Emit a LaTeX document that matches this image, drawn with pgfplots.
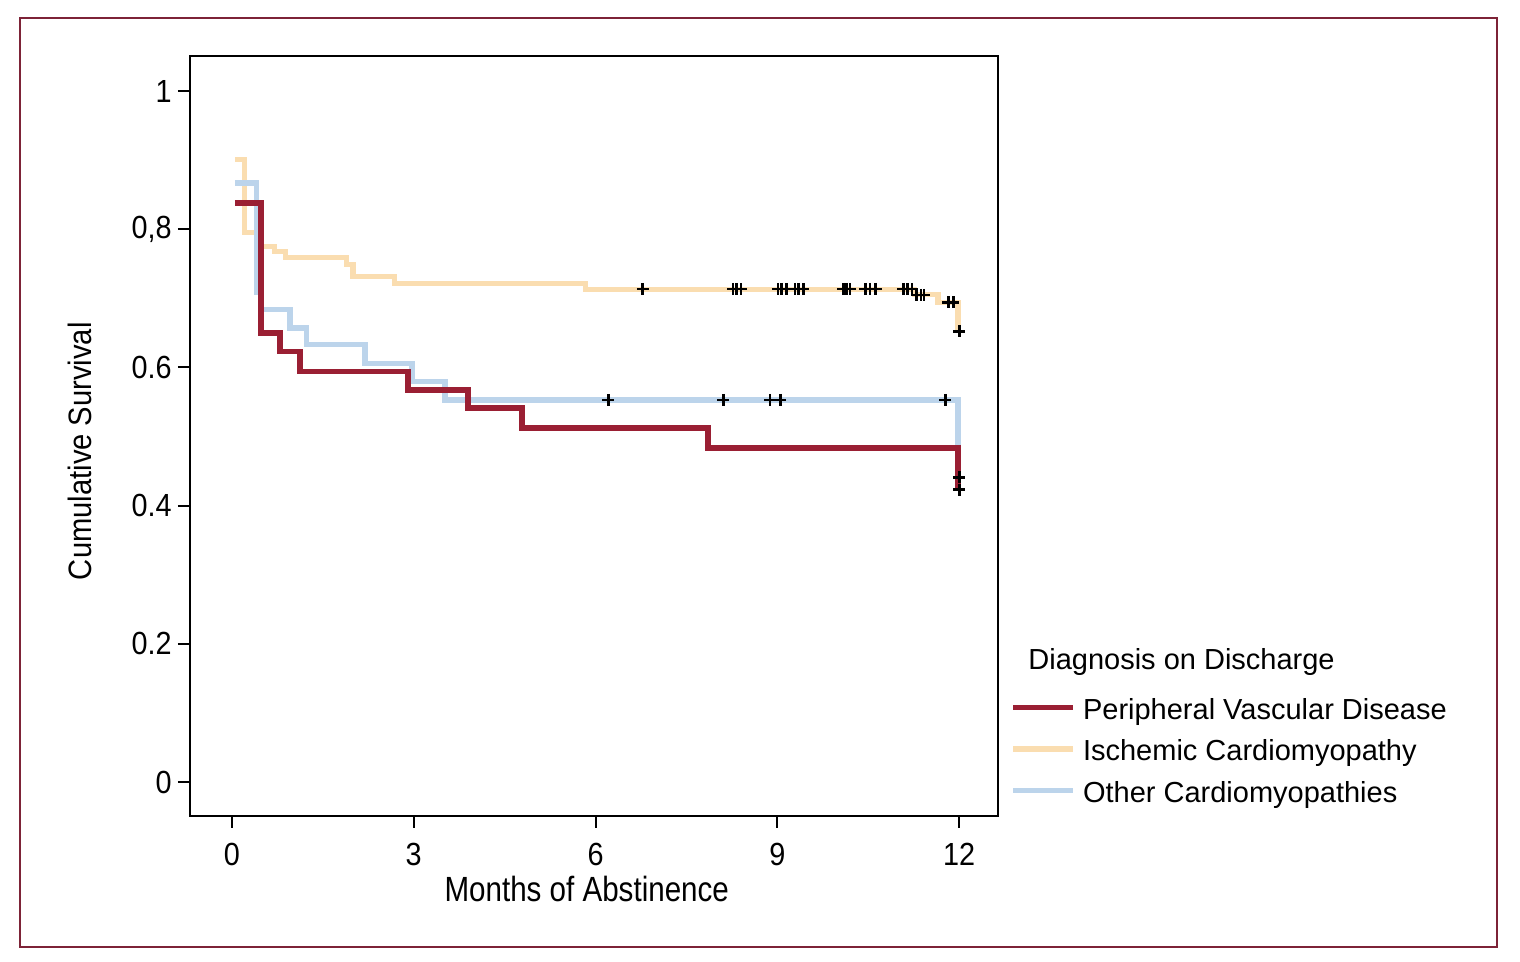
\documentclass[border=0pt]{standalone}
\usepackage{fontspec}
\setmainfont{Liberation Sans}[FakeStretch=0.9]
\newfontfamily\xlabfont{Liberation Sans}[FakeStretch=0.845]
\newfontfamily\legfont{Liberation Sans}
\usepackage{pgfplots}
\pgfplotsset{compat=1.18}
\definecolor{pvd}{RGB}{154,31,51}
\definecolor{isc}{RGB}{250,221,176}
\definecolor{oth}{RGB}{188,212,235}
\definecolor{framecol}{RGB}{125,35,55}
\begin{document}
\begin{tikzpicture}
\path[use as bounding box] (0,0) rectangle (760pt,481pt);
\draw[framecol, line width=1pt] (10pt,7.5pt) rectangle (748.5pt,472pt);
\begin{axis}[
  at={(95pt,73pt)}, anchor=south west, scale only axis,
  width=404pt, height=380pt,
  xmin=-0.69, xmax=12.64, ymin=-0.0492, ymax=1.0507,
  axis line style={line width=1.1pt},
  xtick={0,3,6,9,12}, xticklabels={0,3,6,9,12},
  ytick={0,0.2,0.4,0.6,0.8,1}, yticklabels={0,0.2,0.4,0.6,{0,8},1},
  tick align=outside, tick pos=left, major tick length=6pt,
  tick style={black, line width=1pt},
  ticklabel style={font=\fontsize{16}{19}\selectfont},
  yticklabel style={inner sep=0pt, xshift=-3pt},
  xticklabel style={inner sep=0pt, yshift=-7.5pt},
  xlabel={Months of Abstinence},
  xlabel style={font=\xlabfont\fontsize{17.5}{20}\selectfont, at={(axis description cs:0.491,-0.096)}, anchor=center, inner sep=0pt},
  ylabel={Cumulative Survival},
  ylabel style={font=\fontsize{16.2}{19}\selectfont, at={(axis description cs:-0.136,0.48)}, anchor=center, inner sep=0pt},
  legend cell align=left,
  legend style={draw=none, fill=none, at={(1.0149,0.1592)}, anchor=north west, inner sep=0pt,
    font=\legfont\fontsize{14.5}{17}\selectfont,
    nodes={inner sep=0pt, text height=12pt, text depth=0pt},
    row sep=8.75pt, column sep=3.5pt},
  legend image code/.code={\draw[#1] (0pt,0pt) -- (30pt,0pt);},
]
% Ischemic
\addplot[const plot, isc, line width=2.6pt, forget plot] coordinates {
(0.05,0.901) (0.21,0.795) (0.42,0.775) (0.71,0.768) (0.88,0.759) (1.89,0.749) (2.00,0.732) (2.69,0.722) (5.83,0.713) (11.26,0.705) (11.65,0.694) (11.98,0.652)};
% Other
\addplot[const plot, oth, line width=2.7pt, forget plot] coordinates {
(0.05,0.867) (0.41,0.708) (0.47,0.684) (0.96,0.657) (1.23,0.633) (2.20,0.606) (2.97,0.580) (3.52,0.553) (11.98,0.441)};
% PVD
\addplot[const plot, pvd, line width=2.9pt, forget plot] coordinates {
(0.05,0.838) (0.48,0.650) (0.79,0.623) (1.12,0.594) (2.91,0.567) (3.90,0.541) (4.79,0.512) (7.86,0.483) (11.98,0.423)};
% censored
\addplot[only marks, mark=+, mark size=3pt, black, line width=1.35pt, forget plot] coordinates {
(6.78,0.7135) (8.27,0.7135) (8.33,0.7135) (8.40,0.7135) (9.01,0.7135) (9.07,0.7135) (9.15,0.7135)
(9.29,0.7135) (9.35,0.7135) (9.43,0.7135) (10.09,0.7135) (10.14,0.7135) (10.20,0.7135)
(10.45,0.7135) (10.53,0.7135) (10.62,0.7135) (11.08,0.7135) (11.15,0.7135) (11.22,0.7135)
(11.30,0.705) (11.37,0.705) (11.42,0.705) (11.82,0.694) (11.90,0.694) (12.00,0.652)
(6.21,0.553) (8.11,0.553) (8.88,0.553) (9.05,0.553) (11.77,0.553) (12.00,0.441)
(12.00,0.423)};
\addlegendimage{pvd, line width=2.8pt}
\addlegendentry{Peripheral Vascular Disease}
\addlegendimage{isc, line width=2.8pt}
\addlegendentry{Ischemic Cardiomyopathy}
\addlegendimage{oth, line width=2.8pt}
\addlegendentry{Other Cardiomyopathies}
\end{axis}
\node[anchor=base west, inner sep=0pt, font=\legfont\fontsize{14.5}{17}\selectfont] at (514pt,146.4pt) {Diagnosis on Discharge};
\end{tikzpicture}
\end{document}
